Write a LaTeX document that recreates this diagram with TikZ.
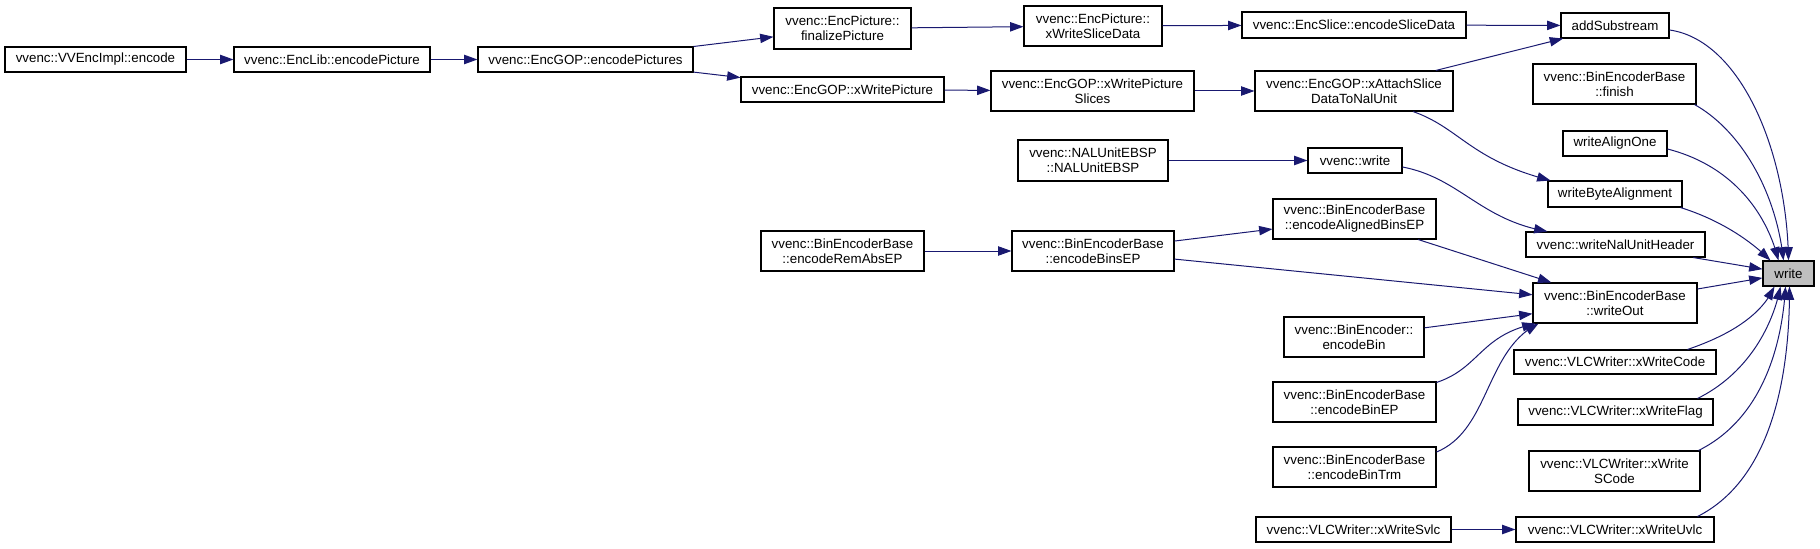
\documentclass[tikz,border=0pt]{standalone}
\usepackage{fontspec}
\setmainfont{Liberation Sans}
\usetikzlibrary{arrows.meta,calc,bending}
\definecolor{edgeblue}{HTML}{191970}
\definecolor{hilite}{HTML}{BFBFBF}
\newcommand\mkbox[7][]{\node[nbox,#1,minimum width={(#5-#3)*0.75pt},minimum height={(#6-#4)*0.75pt}] (#2) at ({(#3+#5)/2},{(#4+#6)/2}) {#7};}
\tikzset{
  nbox/.style={draw=black, fill=white, line width=0.8pt, inner sep=0pt, align=center,
    font=\fontsize{10}{11.2}\selectfont},
  conn/.style={draw=edgeblue, line width=0.75pt, -{Triangle[length=10pt,width=7pt,flex]}},
}
\begin{document}
\begin{tikzpicture}[x=0.75pt,y=-0.75pt]
\useasboundingbox (0,0) rectangle (1820,549);
\mkbox{vvimpl}{5}{47}{186}{72}{vvenc::VVEncImpl::encode}
\mkbox{enclib}{234}{47}{430}{72}{vvenc::EncLib::encodePicture}
\mkbox{encpics}{478}{47}{693}{72}{vvenc::EncGOP::encodePictures}
\mkbox{finpic}{774}{8}{911}{49}{vvenc::EncPicture::\\finalizePicture}
\mkbox{xwsd}{1024}{6}{1162}{46}{vvenc::EncPicture::\\xWriteSliceData}
\mkbox{xwp}{741}{77}{944}{102}{vvenc::EncGOP::xWritePicture}
\mkbox{xwps}{991}{71}{1194}{111}{vvenc::EncGOP::xWritePicture\\Slices}
\mkbox{esd}{1242}{12}{1466}{38}{vvenc::EncSlice::encodeSliceData}
\mkbox{addsub}{1561}{13}{1669}{38}{addSubstream}
\mkbox{xattach}{1255}{71}{1453}{111}{vvenc::EncGOP::xAttachSlice\\DataToNalUnit}
\mkbox{finish}{1533}{64}{1696}{104}{vvenc::BinEncoderBase\\::finish}
\mkbox{walign}{1563}{131}{1667}{156}{writeAlignOne}
\mkbox{vwrite}{1308}{148}{1402}{173}{vvenc::write}
\mkbox{wbyte}{1548}{181}{1682}{207}{writeByteAlignment}
\mkbox{nalu}{1018}{140}{1168}{181}{vvenc::NALUnitEBSP\\::NALUnitEBSP}
\mkbox{eabe}{1273}{199}{1436}{239}{vvenc::BinEncoderBase\\::encodeAlignedBinsEP}
\mkbox{wnal}{1526}{232}{1705}{257}{vvenc::writeNalUnitHeader}
\mkbox[fill=hilite]{write}{1763}{261}{1814}{286}{write}
\mkbox{erae}{761}{231}{924}{271}{vvenc::BinEncoderBase\\::encodeRemAbsEP}
\mkbox{ebep}{1012}{231}{1174}{271}{vvenc::BinEncoderBase\\::encodeBinsEP}
\mkbox{wout}{1533}{283}{1697}{323}{vvenc::BinEncoderBase\\::writeOut}
\mkbox{ebin}{1284}{317}{1424}{357}{vvenc::BinEncoder::\\encodeBin}
\mkbox{ebinep}{1273}{382}{1436}{422}{vvenc::BinEncoderBase\\::encodeBinEP}
\mkbox{ebtrm}{1273}{447}{1436}{487}{vvenc::BinEncoderBase\\::encodeBinTrm}
\mkbox{xwcode}{1514}{350}{1716}{374}{vvenc::VLCWriter::xWriteCode}
\mkbox{xwflag}{1518}{399}{1713}{425}{vvenc::VLCWriter::xWriteFlag}
\mkbox{xwscode}{1529}{451}{1700}{491}{vvenc::VLCWriter::xWrite\\SCode}
\mkbox{xwsvlc}{1256}{517}{1451}{542}{vvenc::VLCWriter::xWriteSvlc}
\mkbox{xwuvlc}{1516}{517}{1714}{542}{vvenc::VLCWriter::xWriteUvlc}

% straight connectors
\draw[conn] (vvimpl) -- (enclib);
\draw[conn] (enclib) -- (encpics);
\draw[conn] (encpics) -- (finpic);
\draw[conn] (encpics) -- (xwp);
\draw[conn] (finpic) -- (xwsd);
\draw[conn] (xwsd) -- (esd);
\draw[conn] (esd) -- (addsub);
\draw[conn] (xwp) -- (xwps);
\draw[conn] (xwps) -- (xattach);
\draw[conn] (xattach) -- (addsub);
\draw[conn] (nalu) -- (vwrite);
\draw[conn] (wnal) -- (write);
\draw[conn] (erae) -- (ebep);
\draw[conn] (ebep) -- (eabe);
\draw[conn] (ebep) -- (wout);
\draw[conn] (eabe) -- (wout);
\draw[conn] (ebin) -- (wout);
\draw[conn] (wout) -- (write);
\draw[conn] (xwsvlc) -- (xwuvlc);

% curved connectors
\draw[conn] ($(xattach.south)+(59,0)$) .. controls (1460,128) and (1470,160) .. ($(wbyte.north west)+(3,0)$);
\draw[conn] ($(addsub.east)+(0,4.5)$) .. controls (1740,40) and (1787,150) .. ($(write.north)+(0,0)$);
\draw[conn] ($(finish.south east)+(-2,0)$) .. controls (1740,130) and (1776,190) .. ($(write.north)+(-5,0)$);
\draw[conn] ($(walign.east)+(0,5.5)$) .. controls (1730,165) and (1766,210) .. ($(write.north)+(-10,0)$);
\draw[conn] ($(wbyte.south east)+(-2,0)$) .. controls (1720,220) and (1750,240) .. ($(write.north west)+(8,0)$);
\draw[conn] ($(vwrite.east)+(0,6.5)$) .. controls (1460,178) and (1480,220) .. ($(wnal.north west)+(22,0)$);
\draw[conn] ($(ebinep.north east)+(0,1)$) .. controls (1480,368) and (1480,335) .. ($(wout.south west)+(3,0)$);
\draw[conn] ($(ebtrm.east)+(0,-15)$) .. controls (1490,430) and (1485,350) .. ($(wout.south west)+(6,0)$);
\draw[conn] ($(xwcode.north east)+(-29,0)$) .. controls (1730,335) and (1762,315) .. ($(write.south)+(-14,0)$);
\draw[conn] ($(xwflag.north east)+(-16,0)$) .. controls (1745,375) and (1772,330) .. ($(write.south)+(-8,0)$);
\draw[conn] ($(xwscode.north east)+(-2,0)$) .. controls (1760,420) and (1782,350) .. ($(write.south)+(-3,0)$);
\draw[conn] ($(xwuvlc.north east)+(-17,0)$) .. controls (1770,480) and (1790,380) .. ($(write.south)+(1,0)$);
\end{tikzpicture}
\end{document}
